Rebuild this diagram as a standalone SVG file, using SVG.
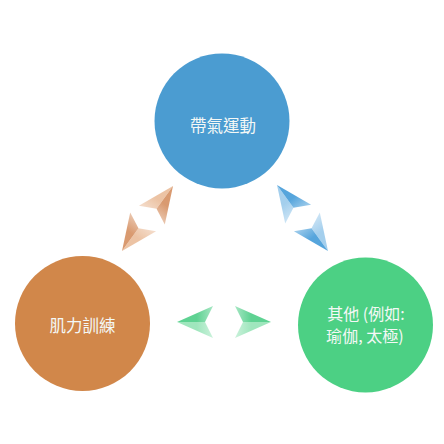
<svg xmlns="http://www.w3.org/2000/svg" width="444" height="444" viewBox="0 0 444 444">
  <defs>
    <style>
      .lbl { font-family: "Noto Sans CJK TC", "Noto Sans CJK SC", "Liberation Sans", sans-serif; font-size: 16.5px; fill: #f4f8f6; text-anchor: middle; dominant-baseline: central; }
      .sm { font-size: 16px; }
    </style>
    <linearGradient id="oL" x1="1" y1="0" x2="0" y2="0"><stop offset="0" stop-color="#ecc3a4"/><stop offset="0.55" stop-color="#ecc3a4"/><stop offset="1" stop-color="#ecc3a4" stop-opacity="0.55"/></linearGradient>
    <linearGradient id="oD" x1="1" y1="0" x2="0" y2="0"><stop offset="0" stop-color="#d99a70"/><stop offset="0.55" stop-color="#d99a70"/><stop offset="1" stop-color="#d99a70" stop-opacity="0.55"/></linearGradient>
    <linearGradient id="bL" x1="1" y1="0" x2="0" y2="0"><stop offset="0" stop-color="#a4cfed"/><stop offset="0.55" stop-color="#a4cfed"/><stop offset="1" stop-color="#a4cfed" stop-opacity="0.55"/></linearGradient>
    <linearGradient id="bD" x1="1" y1="0" x2="0" y2="0"><stop offset="0" stop-color="#56a5dc"/><stop offset="0.55" stop-color="#56a5dc"/><stop offset="1" stop-color="#56a5dc" stop-opacity="0.55"/></linearGradient>
    <linearGradient id="gL" x1="1" y1="0" x2="0" y2="0"><stop offset="0" stop-color="#9fe6bd"/><stop offset="0.55" stop-color="#9fe6bd"/><stop offset="1" stop-color="#9fe6bd" stop-opacity="0.55"/></linearGradient>
    <linearGradient id="gD" x1="1" y1="0" x2="0" y2="0"><stop offset="0" stop-color="#5ed292"/><stop offset="0.55" stop-color="#5ed292"/><stop offset="1" stop-color="#5ed292" stop-opacity="0.55"/></linearGradient>
    <path id="fa" d="M0,0 L-36,-16 L-28,0 Z"/>
    <path id="fb" d="M0,0 L-28,0 L-36,16 Z"/>
  </defs>
  <rect width="444" height="444" fill="#ffffff"/>

  <g id="connectors">
    <g transform="translate(173,186) rotate(-54)"><use href="#fa" fill="url(#oL)"/><use href="#fb" fill="url(#oD)"/></g>
    <g transform="translate(122,251) rotate(126)"><use href="#fa" fill="url(#oL)"/><use href="#fb" fill="url(#oD)"/></g>
    <g transform="translate(277,185) rotate(-126)"><use href="#fa" fill="url(#bL)"/><use href="#fb" fill="url(#bD)"/></g>
    <g transform="translate(328,251) rotate(54)"><use href="#fa" fill="url(#bL)"/><use href="#fb" fill="url(#bD)"/></g>
    <g transform="translate(177,322) rotate(180)"><use href="#fa" fill="url(#gL)"/><use href="#fb" fill="url(#gD)"/></g>
    <g transform="translate(271,322)"><use href="#fa" fill="url(#gD)"/><use href="#fb" fill="url(#gL)"/></g>
  </g>

  <g id="node-aerobic">
    <circle cx="222" cy="121" r="67.5" fill="#4b9cd1"/>
    <text class="lbl" x="223" y="125">帶氣運動</text>
  </g>
  <g id="node-strength">
    <circle cx="82.5" cy="323.5" r="67.5" fill="#d1874a"/>
    <text class="lbl" x="82.5" y="325">肌力訓練</text>
  </g>
  <g id="node-other">
    <circle cx="365.5" cy="325" r="67.5" fill="#4cd084"/>
    <text class="lbl sm" x="366" y="312.5">其他 (例如:</text>
    <text class="lbl sm" x="365" y="335">瑜伽, 太極)</text>
  </g>
</svg>
